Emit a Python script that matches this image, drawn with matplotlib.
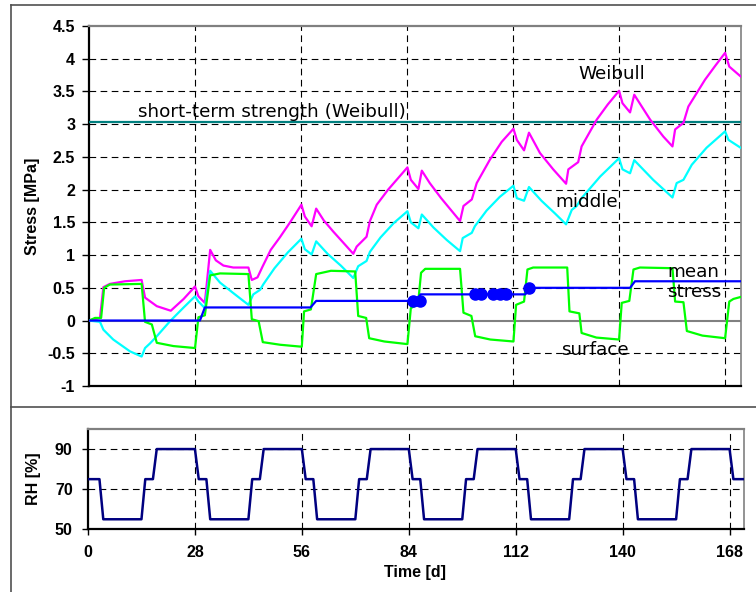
import numpy as np
import matplotlib
matplotlib.use("Agg")
import matplotlib.pyplot as plt
from matplotlib.lines import Line2D

plt.rcParams['font.family'] = ['Liberation Sans', 'DejaVu Sans']

# stress curves [MPa] vs time [d]
weibull_t = [0, 2.9, 3.8, 5.5, 9.5, 13.9, 14.8, 17.9, 21.6, 25, 28.0, 28.9, 30.6, 32.0, 33.5, 35.5,
             38.1, 42.1, 43.0, 44.5, 45.8, 48, 50.4, 53.1, 56.1, 57.0, 58.8, 60.0, 62, 64.5, 67,
             69.8, 70.7, 73.3, 74.2, 76, 79, 82, 84.1, 85.0, 87.0, 87.9, 90, 93, 96, 98.0, 98.9,
             101.1, 102.4, 105.9, 109, 112.1, 113.0, 114.9, 116.2, 119.1, 122.6, 126.0, 126.6,
             129.2, 130.1, 134.1, 137, 140.0, 140.9, 142.9, 144.0, 148.2, 151.7, 154.1, 154.8,
             157.0, 158.3, 162.7, 165.5, 168.0, 169.1, 172.1]
weibull_s = [0, 0.04, 0.51, 0.56, 0.6, 0.62, 0.35, 0.22, 0.15, 0.33, 0.52, 0.37, 0.27, 1.08, 0.92, 0.84,
             0.81, 0.81, 0.62, 0.66, 0.82, 1.08, 1.27, 1.5, 1.77, 1.59, 1.44, 1.71, 1.53, 1.36, 1.2,
             1.02, 1.13, 1.28, 1.52, 1.77, 2.0, 2.2, 2.34, 2.15, 2.01, 2.29, 2.1, 1.87, 1.66, 1.52, 1.75,
             1.85, 2.1, 2.46, 2.73, 2.93, 2.76, 2.6, 2.87, 2.56, 2.31, 2.09, 2.31,
             2.42, 2.66, 3.07, 3.3, 3.51, 3.32, 3.18, 3.45, 3.07, 2.81, 2.66, 2.92,
             3.02, 3.27, 3.68, 3.9, 4.09, 3.88, 3.73]

middle_t = [0, 2.9, 3.8, 6.4, 10.8, 13.9, 14.8, 16.1, 17.9, 21.4, 25, 28.0, 28.9, 30.6, 32.0, 34.6,
            38.1, 42.1, 43.4, 45.2, 46.0, 49, 52.5, 56.1, 57.0, 58.8, 60.0, 63, 66.5, 69.8, 71.1,
            73.3, 74.2, 77, 80.5, 84.1, 85.0, 87.0, 87.9, 91, 94.5, 98.0, 98.7, 101.1, 101.9, 105,
            108.5, 112.1, 113.0, 114.9, 116.2, 119.5, 123, 126.0, 127.5, 128.8, 130.1, 135.0,
            140.0, 140.9, 142.9, 144.0, 149.0, 154.1, 155.2, 157.0, 159.2, 163.1, 168.0, 168.9, 172.1]
middle_s = [0, -0.02, -0.14, -0.29, -0.47, -0.55, -0.42, -0.35, -0.24, -0.01, 0.2, 0.37, 0.29, 0.19, 0.76, 0.58,
            0.42, 0.24, 0.40, 0.47, 0.55, 0.8, 1.04, 1.25, 1.09, 1.01, 1.21, 1.02, 0.84, 0.65, 0.83,
            0.91, 1.05, 1.27, 1.49, 1.67, 1.5, 1.41, 1.62, 1.42, 1.23, 1.06, 1.26, 1.34, 1.44, 1.68,
            1.89, 2.06, 1.87, 1.83, 2.04, 1.83, 1.64, 1.47, 1.69, 1.75, 1.87, 2.2,
            2.48, 2.31, 2.25, 2.45, 2.15, 1.88, 2.10, 2.15, 2.38, 2.64, 2.89, 2.76, 2.64]

surface_t = [0, 1.6, 3.2, 4.0, 5.5, 13.9, 14.8, 16.6, 17.9, 22.3, 28.0, 28.9, 30.6, 32.0, 34.6, 42.1,
             43.0, 44.8, 45.9, 50.5, 56.2, 56.8, 58.6, 60.0, 63.9, 70.3, 71.1, 73.2, 74.0, 78, 84.1,
             85.0, 86.9, 87.7, 88.8, 98.0, 98.9, 101.0, 102.0, 106, 112.1, 112.8, 114.9, 115.8,
             117.3, 126.3, 126.9, 129.5, 130.1, 134, 140.0, 140.7, 142.7, 143.8, 145.5, 154.1,
             154.8, 157.0, 157.9, 162, 168.0, 169.1, 170.2, 172.1]
surface_s = [0, 0.04, 0.04, 0.5, 0.55, 0.56, -0.02, -0.06, -0.34, -0.39, -0.42, 0.05, 0.08, 0.69, 0.72, 0.71,
             0.02, -0.01, -0.33, -0.37, -0.40, 0.14, 0.17, 0.71, 0.76, 0.75, 0.07, 0.04, -0.27, -0.32, -0.36,
             0.19, 0.25, 0.73, 0.79, 0.79, 0.12, 0.07, -0.24, -0.29, -0.32, 0.24, 0.29, 0.78,
             0.81, 0.81, 0.14, 0.11, -0.19, -0.26, -0.29, 0.27, 0.3, 0.78, 0.81, 0.8,
             0.29, 0.28, -0.16, -0.23, -0.27, 0.29, 0.33, 0.36]

mean_t = [0, 29.3, 30.6, 58.5, 60.0, 86.3, 87.6, 115.2, 117.0, 142.9, 144.2, 172.1]
mean_s = [0, 0, 0.2, 0.2, 0.3, 0.3, 0.4, 0.4, 0.5, 0.5, 0.6, 0.6]

dots_t = [85.7, 87.3, 102.0, 103.5, 106.7, 108.5, 110.2, 116.2]
dots_s = [0.3, 0.3, 0.4, 0.4, 0.4, 0.4, 0.4, 0.5]

strength = 3.04

# relative humidity [%]
rh_t = [0, 3, 4, 14, 15, 17, 18, 28, 29, 31, 32, 42, 43, 45, 46, 56, 57, 59, 60, 70, 71, 73, 74,
        84, 85, 87, 88, 98, 99, 101, 102, 112, 113, 115, 116, 126, 127, 129, 130, 140, 141, 143,
        144, 154, 155, 157, 158, 168, 169, 172]
rh_v = [75, 75, 55, 55, 75, 75, 90, 90, 75, 75, 55, 55, 75, 75, 90, 90, 75, 75, 55, 55, 75, 75, 90,
        90, 75, 75, 55, 55, 75, 75, 90, 90, 75, 75, 55, 55, 75, 75, 90, 90, 75, 75,
        55, 55, 75, 75, 90, 90, 75, 75]

day_ticks = [0, 28, 56, 84, 112, 140, 168]
stress_ticks = [-1, -0.5, 0, 0.5, 1, 1.5, 2, 2.5, 3, 3.5, 4, 4.5]
stress_labels = ['-1', '-0.5', '0', '0.5', '1', '1.5', '2', '2.5', '3', '3.5', '4', '4.5']
rh_ticks = [50, 70, 90]

W, H = 756, 592
fig = plt.figure(figsize=(W / 100, H / 100), dpi=100)

ax = fig.add_axes([89 / W, 1 - 386 / H, (741 - 89) / W, (386 - 26) / H])
ax2 = fig.add_axes([88 / W, 1 - 529.3 / H, (743.7 - 88) / W, (529.3 - 429) / H])

grid_kw = dict(color='black', lw=0.8, ls=(0, (6, 4)), zorder=1)

# ---- stress panel
ax.set_xlim(0, 172.2)
ax.set_ylim(-1, 4.5)
for y in stress_ticks:
    if y not in (-1, 0, 4.5):
        ax.axhline(y, **grid_kw)
for x in day_ticks[1:]:
    ax.axvline(x, **grid_kw)
ax.axhline(0, color='#808080', lw=1.5, zorder=2)
ax.axhline(strength, color='#008080', lw=1.6, zorder=3)

ax.plot(weibull_t, weibull_s, color='#FF00FF', lw=1.6, zorder=4)
ax.plot(middle_t, middle_s, color='#00FFFF', lw=1.6, zorder=4)
ax.plot(surface_t, surface_s, color='#00FF00', lw=1.6, zorder=4)
ax.plot(mean_t, mean_s, color='#0000FF', lw=1.6, zorder=5)
ax.plot(dots_t, dots_s, 'o', color='#0000FF', ms=8, zorder=6)

# annotations: the original text is set wide, DejaVu gives a closer width
txt = dict(fontsize=13.2, color='black', zorder=7, family=['DejaVu Sans'])
ax.text(12.9, 3.19, 'short-term strength (Weibull)', va='center', ha='left', **txt)
ax.text(129.2, 3.76, 'Weibull', va='center', ha='left', **txt)
ax.text(123.1, 1.81, 'middle', va='center', ha='left', **txt)
ax.text(124.7, -0.45, 'surface', va='center', ha='left', **txt)
ax.text(152.7, 0.59, 'mean\nstress', va='center', ha='left', linespacing=1.15, **txt)

ax.set_yticks(stress_ticks)
ax.set_yticklabels(stress_labels, fontsize=11.5, fontweight='bold')
ax.set_xticks([])
ax.tick_params(axis='y', direction='out', length=5, width=1, pad=5)

# ---- RH panel
ax2.set_xlim(0, 171.7)
ax2.set_ylim(50, 100)
for y in (70, 90):
    ax2.axhline(y, **grid_kw)
for x in day_ticks[1:]:
    ax2.axvline(x, **grid_kw)
ax2.plot(rh_t, rh_v, color='#000080', lw=1.8, zorder=4)
ax2.set_yticks(rh_ticks)
ax2.set_yticklabels([str(v) for v in rh_ticks], fontsize=11.5, fontweight='bold')
ax2.set_xticks(day_ticks)
ax2.set_xticklabels([str(v) for v in day_ticks], fontsize=11.5, fontweight='bold')
ax2.tick_params(direction='out', length=4, width=1, pad=7)

for a in (ax, ax2):
    a.spines['left'].set_color('black')
    a.spines['bottom'].set_color('black')
    a.spines['left'].set_linewidth(1.6)
    a.spines['bottom'].set_linewidth(1.6)
    a.spines['top'].set_color('#808080')
    a.spines['right'].set_color('#808080')
    a.spines['top'].set_linewidth(1.6)
    a.spines['right'].set_linewidth(1.2)

fig.text(32.5 / W, 1 - 206 / H, 'Stress [MPa]', rotation=90, ha='center', va='center',
         fontsize=11.5, fontweight='bold')
fig.text(33.5 / W, 1 - 479 / H, 'RH [%]', rotation=90, ha='center', va='center',
         fontsize=11.5, fontweight='bold')
fig.text(415 / W, 1 - 573 / H, 'Time [d]', ha='center', va='center',
         fontsize=11.5, fontweight='bold')

# outer frame and separator
frame = [((11, 756), (5, 5)), ((11, 11), (5, 592)), ((11, 756), (407, 407))]
for xs, ys in frame:
    fig.add_artist(Line2D([x / W for x in xs], [1 - y / H for y in ys],
                          transform=fig.transFigure, color='#505050', lw=1.2))

fig.savefig('out.png', dpi=100)
